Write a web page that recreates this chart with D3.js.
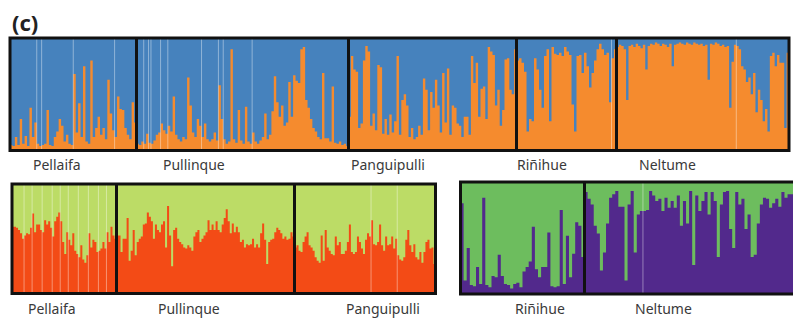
<!DOCTYPE html>
<html>
<head>
<meta charset="utf-8">
<script src="https://cdn.jsdelivr.net/npm/d3@7"></script>
<style>
  body { margin: 0; background: #fff; }
  svg { display: block; }
  text { font-family: "Noto Sans", sans-serif; }
</style>
</head>
<body>
<div id="chart"></div>
<script>
  var width = 793;
  var height = 321;

  // sampled populations, same individuals in every row
  var pops = ["Pellaifa", "Pullinque", "Panguipulli", "Riñihue", "Neltume"];

  // row 1 (blue / orange), value = orange share in %
  var pellaifaTop = [5,4,12,5,28,6,13,4,38,12,25,6,4,5,6,36,5,4,12,17,28,22,8,14,6,5,68,16,42,12,75,8,6,80,12,20,30,14,20,10,63,33,18,12,48,37,36,20,14,10,43,25];
  var pullinqueTop = [6,5,8,6,15,7,6,9,14,16,24,18,15,22,17,48,14,10,8,12,10,65,40,16,12,28,22,12,24,10,8,10,16,9,58,28,10,6,8,90,10,7,36,9,6,39,8,6,16,8,6,9,12,33,10,14,35,66,43,30,40,22,25,61,30,67,62,60,90,92,45,38,28,20,17,12,10,69,11,11,8,57,7,6,8,5,6,4];
  var panguipulliTop = [30,84,72,70,20,24,80,93,88,22,33,18,76,74,15,28,14,32,16,26,84,14,45,50,40,12,20,10,12,22,14,64,54,18,52,38,63,40,16,69,25,73,14,40,38,24,22,12,30,30,14,84,60,78,30,55,57,28,92,88,85,40,54,22,36,81,82,54,50,90];
  var rinihueTop = [80,82,78,70,17,28,26,82,72,54,38,84,90,26,92,86,85,87,84,92,88,85,41,17,84,85,69,87,75,56,69,80,90,95,90,85,87,43,82,90];
  var neltumeTop = [92,94,93,90,45,93,94,92,95,93,91,94,72,93,95,94,96,95,93,95,94,92,95,75,94,95,96,95,94,96,95,94,96,95,94,95,93,94,63,95,94,96,95,93,94,92,93,38,79,94,93,90,75,72,61,65,50,69,34,54,45,26,37,17,84,87,75,85,78,78,20,87];

  // row 2 left (green / red), value = red share in %
  var pellaifaRed = [61,61,60,58,55,50,53,55,54,60,73,56,63,63,58,56,67,63,66,60,52,66,70,74,66,47,36,56,49,44,55,39,36,33,44,31,28,35,55,42,49,47,38,39,41,47,41,56,47,61,53,50];
  var pullinqueRed = [53,53,38,50,50,69,30,39,58,35,47,50,52,63,64,74,70,66,50,63,58,56,63,66,42,80,53,25,58,60,50,47,45,42,41,44,42,39,52,56,58,47,50,53,56,67,58,63,58,66,58,56,63,69,77,66,55,64,56,61,56,47,49,42,45,44,45,50,42,45,42,55,64,49,27,47,49,50,56,60,58,55,50,52,49,50,56,52];
  var panguipulliRed = [42,44,39,38,47,52,56,44,42,39,33,30,28,53,30,58,42,39,36,35,52,44,47,36,36,39,47,63,38,36,38,52,47,41,36,49,55,52,67,45,44,47,63,44,39,52,44,45,52,41,50,35,31,30,33,49,58,44,38,45,33,31,38,28,38,47,49,41,42,27];

  // row 2 right (green / purple), value = purple share in %
  var rinihuePurple = [81,12,41,8,7,24,9,86,8,6,16,15,35,16,9,8,5,9,10,6,20,24,29,60,22,15,24,24,55,7,6,7,75,9,52,15,36,64,61,33];
  var neltumePurple = [91,85,80,61,54,21,37,63,86,89,92,78,78,12,80,92,37,71,74,74,75,92,88,83,85,74,86,77,83,77,88,61,83,63,92,26,88,74,83,91,71,91,83,33,80,91,92,58,41,91,80,85,58,71,33,35,63,80,86,85,77,81,85,78,91,86,89,89,88,90,85,90];

  // pale seams between individuals (index of the individual)
  var pellaifaTopGaps = [11,13,26,43];
  var pullinqueTopGaps = [3,5,6,10,13,27,34,36,48];
  var rinihueTopGaps = [38];
  var neltumeTopGaps = [50];
  var pellaifaRedGaps = [6,10,15,20,24,28,33,38,43,47];
  var panguipulliRedGaps = [38,51];
  var neltumePurpleGaps = [19];

  var svg = d3.select("#chart").append("svg")
      .attr("width", width)
      .attr("height", height);

  var panels = [
    { series: [pellaifaTop, pullinqueTop, panguipulliTop, rinihueTop, neltumeTop],
      gaps: [pellaifaTopGaps, pullinqueTopGaps, [], rinihueTopGaps, neltumeTopGaps],
      names: pops,
      edges: [10, 136.5, 348.5, 516.5, 616.5, 789],
      top: 38, bottom: 150.5,
      low: "#f58b2e", high: "#4682bd",
      labelX: [33, 163, 351, 517, 639], labelY: 170 },
    { series: [pellaifaRed, pullinqueRed, panguipulliRed],
      gaps: [pellaifaRedGaps, [], panguipulliRedGaps],
      names: pops.slice(0, 3),
      edges: [12, 116.5, 294.5, 435.5],
      top: 184, bottom: 293.5,
      low: "#f34b16", high: "#bcdc66",
      labelX: [28, 158, 346], labelY: 314 },
    { series: [rinihuePurple, neltumePurple],
      gaps: [[], neltumePurpleGaps],
      names: pops.slice(3),
      edges: [460.5, 584.5, 806],
      top: 182, bottom: 294,
      low: "#52298c", high: "#6dbd5e",
      labelX: [515, 635], labelY: 314 }
  ];

  panels.forEach(function(p) {
    var g = svg.append("g");
    var y = d3.scaleLinear().domain([0, 100]).range([p.bottom, p.top]);

    // upper cluster fills the whole frame
    g.append("rect")
      .attr("x", p.edges[0]).attr("y", p.top)
      .attr("width", p.edges[p.edges.length - 1] - p.edges[0])
      .attr("height", p.bottom - p.top)
      .attr("fill", p.high);

    p.series.forEach(function(vals, i) {
      var x = d3.scaleBand().domain(d3.range(vals.length + 1))
          .range([p.edges[i], p.edges[i + 1] + (p.edges[i + 1] - p.edges[i]) / vals.length]);
      var pts = vals.concat([vals[vals.length - 1]]);
      var area = d3.area()
          .curve(d3.curveStepAfter)
          .x(function(d, j) { return x(j); })
          .y0(p.bottom)
          .y1(function(d) { return y(d); });
      g.append("path").datum(pts)
        .attr("d", area)
        .attr("fill", p.low);

      g.selectAll(null).data(p.gaps[i]).enter().append("line")
        .attr("x1", function(d) { return x(d); })
        .attr("x2", function(d) { return x(d); })
        .attr("y1", p.top).attr("y2", p.bottom)
        .attr("stroke", "#fff")
        .attr("stroke-opacity", 0.5)
        .attr("stroke-width", 0.8);

      svg.append("text")
        .attr("x", p.labelX[i]).attr("y", p.labelY)
        .attr("font-size", "14px")
        .attr("fill", "#3a3a3a")
        .text(p.names[i]);
    });

    // frame and population dividers
    g.append("rect")
      .attr("x", p.edges[0]).attr("y", p.top)
      .attr("width", p.edges[p.edges.length - 1] - p.edges[0])
      .attr("height", p.bottom - p.top)
      .attr("fill", "none")
      .attr("stroke", "#111")
      .attr("stroke-width", 3);
    g.selectAll(null).data(p.edges.slice(1, -1)).enter().append("line")
      .attr("x1", function(d) { return d; })
      .attr("x2", function(d) { return d; })
      .attr("y1", p.top).attr("y2", p.bottom)
      .attr("stroke", "#111")
      .attr("stroke-width", 3);
  });

  svg.append("text")
    .attr("x", 12).attr("y", 31)
    .attr("font-size", "22px")
    .attr("font-weight", "bold")
    .attr("fill", "#222")
    .text("(c)");
</script>
</body>
</html>
